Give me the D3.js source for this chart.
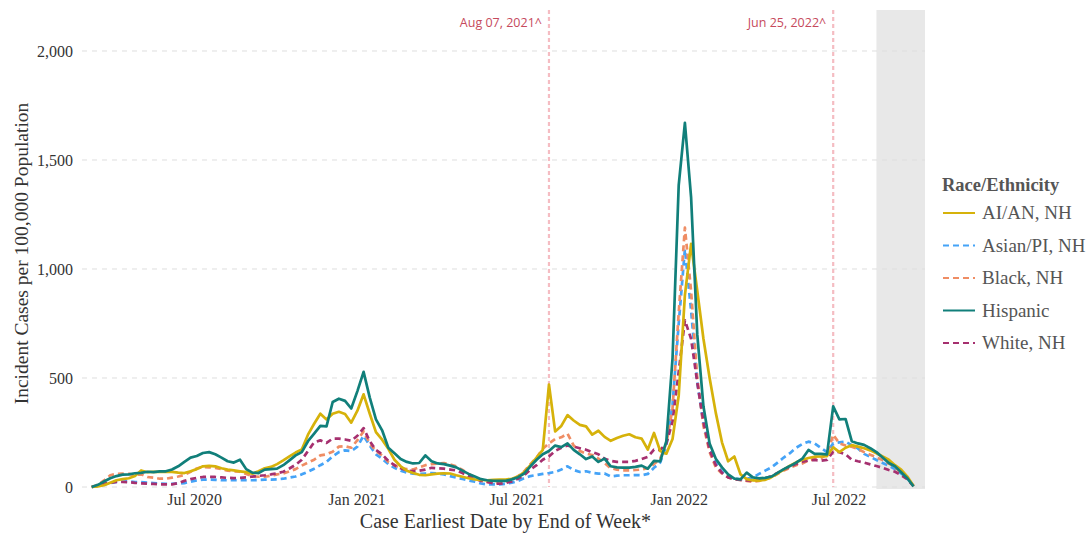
<!DOCTYPE html>
<html>
<head>
<meta charset="utf-8">
<script src="https://cdn.jsdelivr.net/npm/d3@7"></script>
<style>
  html, body { margin: 0; padding: 0; background: #fff; }
  svg { display: block; }
</style>
</head>
<body>
<svg id="chart" width="1089" height="536"></svg>
<script>
// Weekly incident case rates per 100,000, week ending Saturday, from 2020-03-07
const firstWeek = "2020-03-07";

const aianNH = [0,3,8,20,31,36,40,50,76,68,70,69,69,69,66,64,72,82,95,97,95,86,80,76,72,68,61,72,86,92,105,122,140,158,172,240,290,336,310,336,345,335,295,350,425,336,252,217,175,125,95,75,64,56,54,58,61,63,62,54,47,40,35,32,31,33,34,34,38,48,68,100,135,170,470,255,280,330,305,285,278,240,258,230,212,225,235,242,228,222,172,248,165,153,220,420,880,1115,900,680,500,340,205,118,140,58,36,30,29,33,45,62,80,98,113,125,133,139,140,142,182,160,180,192,185,178,168,155,140,125,100,80,48,5];

const asianPI = [0,5,12,18,23,25,26,23,22,20,18,16,15,15,16,18,24,30,34,34,33,31,31,31,31,31,31,32,34,34,35,38,43,48,58,70,84,100,115,141,160,168,165,185,235,190,150,130,105,88,75,66,61,60,62,64,62,58,50,43,37,30,24,16,12,12,12,15,20,28,40,50,55,60,64,69,80,95,78,69,72,65,61,62,48,52,54,54,55,54,60,88,112,190,380,750,1090,810,480,290,185,110,70,48,38,35,38,44,60,75,90,112,135,155,180,197,208,200,180,160,200,205,208,192,177,152,138,124,110,98,82,62,40,5];

const blackNH = [0,10,30,54,60,61,60,55,58,46,43,38,38,43,48,55,70,85,92,90,88,82,75,72,70,60,49,47,47,52,58,62,72,82,98,112,125,145,150,162,185,187,180,215,255,200,165,145,115,100,86,82,80,90,100,105,108,110,104,95,78,60,45,32,23,19,18,23,34,50,72,105,135,175,200,220,228,245,190,165,153,147,130,110,86,80,76,76,78,80,86,105,130,200,360,800,1190,900,500,280,160,90,62,44,36,32,28,24,28,36,44,60,76,88,100,108,122,128,131,150,240,200,190,185,175,160,148,136,124,108,90,66,40,5];

const hispanic = [0,10,25,40,50,57,58,63,65,70,68,72,72,80,95,115,135,142,156,160,150,135,118,112,125,82,66,64,80,82,84,100,122,145,160,210,245,280,278,390,405,395,360,440,528,410,310,260,180,155,128,115,108,110,145,118,108,105,98,90,75,60,48,36,31,28,28,28,35,45,62,95,125,150,165,190,183,200,170,150,128,140,115,130,95,90,89,89,92,98,84,120,118,210,590,1385,1670,1330,700,370,200,130,90,58,38,35,66,44,40,42,48,65,82,96,112,130,170,152,152,150,370,310,312,210,200,193,178,160,135,110,95,68,40,3];

const whiteNH = [0,5,15,20,23,23,22,19,17,15,14,12,12,12,18,28,36,42,46,47,46,44,42,41,42,44,48,51,54,58,63,70,85,102,125,165,205,214,202,222,222,218,212,235,270,210,170,150,120,100,86,76,73,75,80,88,86,84,80,76,64,50,38,28,23,17,15,18,26,38,55,80,100,125,140,165,180,190,185,178,171,160,150,130,120,115,115,115,120,128,138,171,170,200,300,530,765,680,480,300,170,100,65,44,36,32,30,29,32,40,50,65,80,92,106,116,122,124,121,124,162,160,150,125,118,112,104,96,88,78,70,55,35,4];

const seriesNames = ["AI/AN, NH", "Asian/PI, NH", "Black, NH", "Hispanic", "White, NH"];
const seriesValues = [aianNH, asianPI, blackNH, hispanic, whiteNH];
const seriesColors = ["#d6b20a", "#45a3f7", "#ef8d64", "#117f7a", "#a6306f"];
const seriesDashes = [null, "6,4", "6,4", null, "6,4"];

const yTicks = [0, 500, 1000, 1500, 2000];
const xTickDates = ["2020-07-01", "2021-01-01", "2021-07-01", "2022-01-01", "2022-07-01"];
const markerDates = ["2021-08-07", "2022-06-25"];
const markerLabels = ["Aug 07, 2021^", "Jun 25, 2022^"];
const shadedStart = "2022-08-13";
const xDomain = ["2020-02-25", "2022-10-07"];

const parse = d3.utcParse("%Y-%m-%d");
const start = parse(firstWeek);
const weeks = aianNH.map((_, i) => d3.utcDay.offset(start, 7 * i));

const svg = d3.select("#chart");
const plotLeft = 82, plotRight = 925, plotTop = 10, plotBottom = 487;
const serif = "'Liberation Serif', 'Times New Roman', serif";

const x = d3.scaleUtc().domain(xDomain.map(parse)).range([plotLeft, plotRight]);
const y = d3.scaleLinear().domain([0, 2188]).range([plotBottom, plotTop]);

// shaded incomplete-data window
svg.append("rect")
  .attr("x", x(parse(shadedStart)))
  .attr("y", plotTop)
  .attr("width", plotRight - x(parse(shadedStart)))
  .attr("height", plotBottom - plotTop + 2)
  .attr("fill", "#e8e8e8");

// horizontal grid
svg.append("g")
  .selectAll("line")
  .data(yTicks)
  .join("line")
  .attr("x1", plotLeft).attr("x2", plotRight)
  .attr("y1", d => y(d)).attr("y2", d => y(d))
  .attr("stroke", "#dedede")
  .attr("stroke-width", 1)
  .attr("stroke-dasharray", "5,5");

// y axis labels
const yAxis = d3.axisLeft(y).tickValues(yTicks).tickFormat(d3.format(",")).tickSize(0).tickPadding(9);
svg.append("g")
  .attr("transform", `translate(${plotLeft},0)`)
  .call(yAxis)
  .call(g => g.select(".domain").remove())
  .call(g => g.selectAll("text")
    .attr("font-family", serif)
    .attr("font-size", 16)
    .attr("fill", "#333"));

// x axis labels
const xAxis = d3.axisBottom(x).tickValues(xTickDates.map(parse)).tickFormat(d3.utcFormat("%b %Y")).tickSize(0).tickPadding(7);
svg.append("g")
  .attr("transform", `translate(0,${plotBottom})`)
  .call(xAxis)
  .call(g => g.select(".domain").remove())
  .call(g => g.selectAll("text")
    .attr("font-family", serif)
    .attr("font-size", 16)
    .attr("fill", "#333"));

// axis titles
svg.append("text")
  .attr("x", (plotLeft + plotRight) / 2 + 2)
  .attr("y", 528)
  .attr("text-anchor", "middle")
  .attr("font-family", serif)
  .attr("font-size", 20)
  .attr("fill", "#333")
  .text("Case Earliest Date by End of Week*");

svg.append("text")
  .attr("transform", `translate(28,${(plotTop + plotBottom) / 2 + 5}) rotate(-90)`)
  .attr("text-anchor", "middle")
  .attr("font-family", serif)
  .attr("font-size", 19.5)
  .attr("fill", "#333")
  .text("Incident Cases per 100,000 Population");

// reference date markers
markerDates.forEach((d, k) => {
  const mx = x(parse(d));
  svg.append("line")
    .attr("x1", mx).attr("x2", mx)
    .attr("y1", plotTop).attr("y2", plotBottom)
    .attr("stroke", "#f5bcc2")
    .attr("stroke-width", 2.2)
    .attr("stroke-dasharray", "4,3");
  svg.append("text")
    .attr("x", mx - 7)
    .attr("y", 27)
    .attr("text-anchor", "end")
    .attr("font-family", "'Open Sans', 'DejaVu Sans', sans-serif")
    .attr("font-size", 12.5)
    .attr("fill", "#c64a5c")
    .text(markerLabels[k]);
});

// series lines
const line = d3.line()
  .x((d, i) => x(weeks[i]))
  .y(d => y(d));

const drawOrder = [1, 2, 4, 0, 3];
drawOrder.forEach(k => {
  svg.append("path")
    .datum(seriesValues[k])
    .attr("d", line)
    .attr("fill", "none")
    .attr("stroke", seriesColors[k])
    .attr("stroke-width", 2.7)
    .attr("stroke-linejoin", "round")
    .attr("stroke-dasharray", seriesDashes[k]);
});

// legend
const legend = svg.append("g").attr("transform", "translate(942,0)");
legend.append("text")
  .attr("x", 0).attr("y", 191)
  .attr("font-family", serif)
  .attr("font-size", 18.5)
  .attr("font-weight", "bold")
  .attr("fill", "#555")
  .text("Race/Ethnicity");

seriesNames.forEach((name, k) => {
  const ry = 213 + k * 32.5;
  legend.append("line")
    .attr("x1", 1).attr("x2", 33)
    .attr("y1", ry).attr("y2", ry)
    .attr("stroke", seriesColors[k])
    .attr("stroke-width", 2)
    .attr("stroke-dasharray", seriesDashes[k] ? "6,4" : null);
  legend.append("text")
    .attr("x", 40).attr("y", ry + 6)
    .attr("font-family", serif)
    .attr("font-size", 19)
    .attr("fill", "#555")
    .text(name);
});
</script>
</body>
</html>
